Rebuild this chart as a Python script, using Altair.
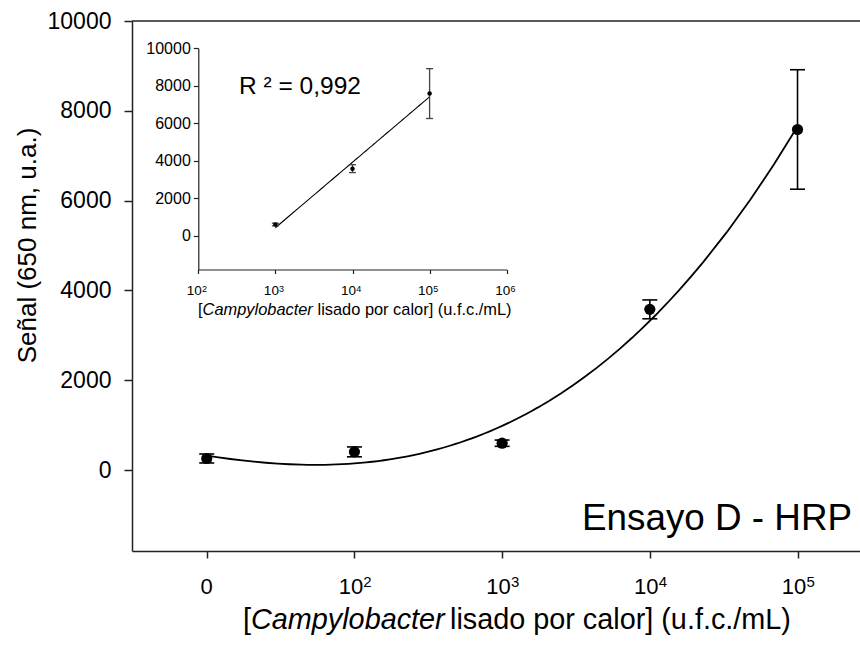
import altair as alt
import pandas as pd

# ---------------- data ----------------
categories = ["0", "10²", "10³", "10⁴", "10⁵"]
cat_base = ["0", "10", "10", "10", "10"]
cat_exp = ["", "2", "3", "4", "5"]
signal_mean = [260, 407, 600, 3580, 7585]
signal_err = [100, 110, 70, 210, 1330]

inset_conc = [1e3, 1e4, 1e5]
inset_mean = signal_mean[2:]
inset_err = signal_err[2:]
inset_ticks = [1e2, 1e3, 1e4, 1e5, 1e6]
inset_tick_base = ["10", "10", "10", "10", "10"]
inset_tick_exp = ["2", "3", "4", "5", "6"]

y_ticks = [0, 2000, 4000, 6000, 8000, 10000]
y_title = "Señal (650 nm, u.a.)"
x_title_parts = ["[", "Campylobacter", "lisado por calor] (u.f.c./mL)"]
r2_text = "R ² = 0,992"
assay_label = "Ensayo D - HRP"

FONT = "Liberation Sans"
W, H = 728, 530
AX = "#222222"

# ---------------- main panel ----------------
main_df = pd.DataFrame({
    "xi": list(range(len(categories))),
    "cat": categories,
    "y": signal_mean,
    "err": signal_err,
})
main_df["lo"] = main_df["y"] - main_df["err"]
main_df["hi"] = main_df["y"] + main_df["err"]

lab_df = pd.DataFrame({"xi": list(range(len(categories))), "base": cat_base, "exp": cat_exp})

xscale = alt.Scale(domain=[-0.506, 4.423], zero=False, nice=False)
yscale = alt.Scale(domain=[-1800, 10000], zero=False, nice=False)

x_axis = alt.Axis(values=list(range(len(categories))), labels=False,
                  title=None, grid=False, tickSize=7,
                  domainWidth=1.5, tickWidth=1.5)
y_axis = alt.Axis(values=y_ticks, format="d", grid=False, tickSize=8, labelPadding=13,
                  labelFontSize=23, labelFlush=False, domainWidth=1.5, tickWidth=1.5,
                  title=y_title, titleFontSize=26, titleFontWeight="normal",
                  titleColor="black", titleX=-97, titleY=224, titleAngle=270,
                  titleAlign="center", titleBaseline="alphabetic")

X = alt.X("xi:Q", scale=xscale, axis=x_axis)
base = alt.Chart(main_df)

fit = base.transform_regression("xi", "y", method="poly", order=3).mark_line(
    color="black", strokeWidth=1.8).encode(x=X, y=alt.Y("y:Q", scale=yscale, axis=y_axis))
err_rule = base.mark_rule(color="black", strokeWidth=1.6).encode(
    x=X, y=alt.Y("lo:Q", scale=yscale, axis=y_axis), y2="hi:Q")
cap_lo = base.mark_rule(color="black", strokeWidth=1.6, xOffset=-7.5, x2Offset=7.5).encode(
    x=X, x2="xi:Q", y=alt.Y("lo:Q", scale=yscale, axis=y_axis))
cap_hi = base.mark_rule(color="black", strokeWidth=1.6, xOffset=-7.5, x2Offset=7.5).encode(
    x=X, x2="xi:Q", y=alt.Y("hi:Q", scale=yscale, axis=y_axis))
pts = base.mark_circle(size=125, color="black", opacity=1).encode(
    x=X, y=alt.Y("y:Q", scale=yscale, axis=y_axis))

lab = alt.Chart(lab_df)
lab_plain = lab.transform_filter("datum.exp == ''").mark_text(
    align="center", baseline="alphabetic", font=FONT, fontSize=22, color="black").encode(
    x=X, y=alt.value(573), text="base:N")
lab_base = lab.transform_filter("datum.exp != ''").mark_text(
    align="right", baseline="alphabetic", font=FONT, fontSize=22, color="black", dx=8.7).encode(
    x=X, y=alt.value(573), text="base:N")
lab_exp = lab.transform_filter("datum.exp != ''").mark_text(
    align="left", baseline="alphabetic", font=FONT, fontSize=15, color="black", dx=8.9).encode(
    x=X, y=alt.value(566), text="exp:N")

main = alt.layer(fit, err_rule, cap_lo, cap_hi, pts, lab_plain, lab_base, lab_exp)

# ---------------- inset ----------------
inset_df = pd.DataFrame({"conc": inset_conc, "y": inset_mean, "err": inset_err})
inset_df["lo"] = inset_df["y"] - inset_df["err"]
inset_df["hi"] = inset_df["y"] + inset_df["err"]
itick_df = pd.DataFrame({"conc": inset_ticks, "base": inset_tick_base, "exp": inset_tick_exp})

ix_scale = alt.Scale(type="log", domain=[1e2, 1e6], range=[66.3, 374.7], nice=False)
iy_scale = alt.Scale(domain=[-1800, 10000], range=[248.5, 27.3], zero=False, nice=False)

ix_axis = alt.Axis(orient="bottom", offset=-281.5, values=inset_ticks, labels=False,
                   title=None, grid=False, tickSize=4,
                   domainWidth=1.2, tickWidth=1.2)
iy_axis = alt.Axis(orient="left", offset=-66.3, values=y_ticks, format="d", title=None,
                   grid=False, tickSize=5, labelPadding=3, labelFontSize=16,
                   labelFlush=False, domainWidth=1.2, tickWidth=1.2)

IX = alt.X("conc:Q", scale=ix_scale, axis=ix_axis)
ibase = alt.Chart(inset_df)

ifit = ibase.transform_regression("conc", "y", method="log").mark_line(
    color="black", strokeWidth=1.1).encode(x=IX, y=alt.Y("y:Q", scale=iy_scale, axis=iy_axis))
ierr = ibase.mark_rule(color="#444444", strokeWidth=1.3).encode(
    x=IX, y=alt.Y("lo:Q", scale=iy_scale, axis=iy_axis), y2="hi:Q")
icap_lo = ibase.mark_rule(color="#444444", strokeWidth=1.3, xOffset=-3.5, x2Offset=3.5).encode(
    x=IX, x2="conc:Q", y=alt.Y("lo:Q", scale=iy_scale, axis=iy_axis))
icap_hi = ibase.mark_rule(color="#444444", strokeWidth=1.3, xOffset=-3.5, x2Offset=3.5).encode(
    x=IX, x2="conc:Q", y=alt.Y("hi:Q", scale=iy_scale, axis=iy_axis))
ipts = ibase.mark_circle(size=20, color="black", opacity=1).encode(
    x=IX, y=alt.Y("y:Q", scale=iy_scale, axis=iy_axis))

ilab = alt.Chart(itick_df)
ilab_base = ilab.mark_text(align="right", baseline="alphabetic", font=FONT, fontSize=13.5,
                           color="black", dx=3.5).encode(x=IX, y=alt.value(274), text="base:N")
ilab_exp = ilab.mark_text(align="left", baseline="alphabetic", font=FONT, fontSize=9,
                          color="black", dx=3.7).encode(x=IX, y=alt.value(270.5), text="exp:N")

inset = alt.layer(ifit, ierr, icap_lo, icap_hi, ipts, ilab_base, ilab_exp)


# ---------------- annotations ----------------
def txt(text, x, y, size, style="normal", align="left"):
    return alt.Chart(alt.Data(values=[{"t": text}])).mark_text(
        align=align, baseline="alphabetic", font=FONT, fontSize=size,
        fontStyle=style, color="black").encode(
        x=alt.value(x), y=alt.value(y), text="t:N")


texts = [
    txt(x_title_parts[0], 111, 608, 28.8),
    txt(x_title_parts[1], 119, 608, 28.8, style="italic"),
    txt(x_title_parts[2], 318, 608, 28.8),
    txt(x_title_parts[0], 66, 294, 16.4),
    txt(x_title_parts[1], 70.6, 294, 16.4, style="italic"),
    txt(x_title_parts[2], 185.5, 294, 16.4),
    txt(r2_text, 107, 73, 24.5),
    txt(assay_label, 720, 509, 36.8, align="right"),
]

top_rule = alt.Chart(alt.Data(values=[{}])).mark_rule(color=AX, strokeWidth=1.5).encode(
    x=alt.value(0), x2=alt.value(W), y=alt.value(0))

chart = alt.layer(main, inset, top_rule, *texts).resolve_scale(
    x="independent", y="independent"
).properties(
    width=W, height=H,
    padding={"left": 132, "top": 21, "right": 0, "bottom": 97},
    autosize=alt.AutoSizeParams(type="none"),
    background="white",
).configure_view(stroke=None).configure_axis(
    labelFont=FONT, titleFont=FONT, labelColor="black",
    domainColor=AX, tickColor=AX,
)

chart.save("out.html", embed_options={"renderer": "svg", "actions": False})
